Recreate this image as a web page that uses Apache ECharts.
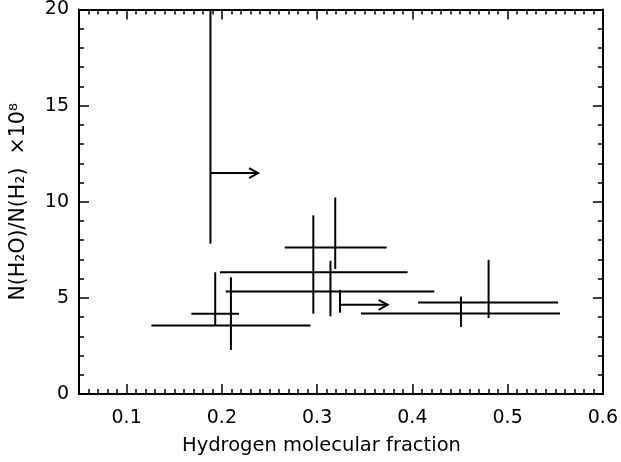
<!DOCTYPE html>
<html><head><meta charset="utf-8">
<script src="https://cdn.jsdelivr.net/npm/echarts@6/dist/echarts.min.js"></script>
<style>html,body{margin:0;padding:0;background:#fff}#c{width:621px;height:462px}</style>
</head><body><div id="c"></div>
<script>
// Measured points with two-sided error bars
const xVal  = [0.193, 0.2095, 0.296, 0.319, 0.314, 0.480, 0.451];
const xLow  = [0.168, 0.126, 0.198, 0.266, 0.204, 0.406, 0.346];
const xHigh = [0.218, 0.293, 0.395, 0.373, 0.423, 0.553, 0.555];
const yVal  = [4.18, 3.56, 6.33, 7.62, 5.33, 4.76, 4.19];
const yLow  = [3.56, 2.29, 4.18, 6.50, 4.04, 3.95, 3.49];
const yHigh = [6.33, 6.07, 9.29, 10.22, 6.93, 6.98, 5.07];
// Lower limits on the molecular fraction (arrows)
const limX      = [0.188, 0.324];
const limArrowTo = [0.238, 0.374];
const limY      = [11.49, 4.64];
const limYLow   = [7.82, 4.23];
const limYHigh  = [20, 5.42];
// Tick labels
const xTickLabels = [0.1, 0.2, 0.3, 0.4, 0.5, 0.6];
const yTickLabels = [0, 5, 10, 15, 20];

const FONT = 'DejaVu Sans';
const chart = echarts.init(document.getElementById('c'), null, {renderer: 'canvas'});
const lineStyleAx = {color: '#000', width: 2};

function errRender(params, api) {
  const x = api.value(0), y = api.value(1);
  const xl = api.coord([api.value(2), y]);
  const xh = api.coord([api.value(3), y]);
  const yl = api.coord([x, api.value(4)]);
  const yh = api.coord([x, api.value(5)]);
  const style = {stroke: '#000', lineWidth: 2};
  return {type: 'group', children: [
    {type: 'line', shape: {x1: xl[0], y1: xl[1], x2: xh[0], y2: xh[1]}, style},
    {type: 'line', shape: {x1: yl[0], y1: yl[1], x2: yh[0], y2: yh[1]}, style}
  ]};
}
function limRender(params, api) {
  const x = api.value(0), y = api.value(1);
  const p0 = api.coord([x, y]);
  const p1 = api.coord([api.value(2), y]);
  const yl = api.coord([x, api.value(3)]);
  const yh = api.coord([x, api.value(4)]);
  const style = {stroke: '#000', lineWidth: 2, fill: null};
  return {type: 'group', children: [
    {type: 'line', shape: {x1: yl[0], y1: yl[1], x2: yh[0], y2: yh[1]}, style},
    {type: 'line', shape: {x1: p0[0], y1: p0[1], x2: p1[0], y2: p1[1]}, style},
    {type: 'polyline', shape: {points: [[p1[0] - 9, p1[1] - 5], [p1[0], p1[1]], [p1[0] - 9, p1[1] + 5]]}, style}
  ]};
}

const xMin = 0.05, xMax = xTickLabels[xTickLabels.length - 1];
const yMin = yTickLabels[0], yMax = yTickLabels[yTickLabels.length - 1];

function xAx(pos, major, withLabel) {
  const a = {
    type: 'value', position: pos, min: xMin, max: xMax, gridIndex: 0,
    axisLine: {show: true, onZero: false, lineStyle: lineStyleAx},
    splitLine: {show: false},
    axisTick: {show: true, inside: true, length: major ? 10 : 5, lineStyle: {color: '#000', width: 1.5}},
    axisLabel: {show: false}
  };
  if (major) {
    a.axisTick.customValues = xTickLabels;
    a.axisLabel = {show: withLabel, customValues: xTickLabels, color: '#000', fontSize: 19,
      fontFamily: FONT, margin: 15, formatter: v => String(v)};
  } else {
    a.interval = 0.01;
  }
  return a;
}
function yAx(pos, withLabel) {
  return {
    type: 'value', position: pos, min: yMin, max: yMax, interval: 5, gridIndex: 0,
    axisLine: {show: true, onZero: false, lineStyle: lineStyleAx},
    splitLine: {show: false},
    axisTick: {show: true, inside: true, length: 10, lineStyle: {color: '#000', width: 1.5}},
    minorTick: {show: true, splitNumber: 5, length: 5, lineStyle: {color: '#000', width: 1.5}},
    axisLabel: {show: withLabel, color: '#000', fontSize: 19, fontFamily: FONT, margin: 10}
  };
}

const xAxes = [xAx('bottom', true, true), xAx('bottom', false, false), xAx('top', true, false), xAx('top', false, false)];
xAxes[0].name = 'Hydrogen molecular fraction';
xAxes[0].nameLocation = 'middle';
xAxes[0].nameGap = 42;
xAxes[0].nameTextStyle = {color: '#000', fontSize: 19.5, fontFamily: FONT, padding: [0, 39, 0, 0]};
const yAxes = [yAx('left', true), yAx('right', false)];
yAxes[0].name = 'N(H\u2082O)/N(H\u2082)  \u00d710\u2078';
yAxes[0].nameLocation = 'middle';
yAxes[0].nameGap = 50;
yAxes[0].nameTextStyle = {color: '#000', fontSize: 20.5, fontFamily: FONT};

chart.setOption({
  animation: false,
  backgroundColor: '#fff',
  grid: {left: 79, right: 16, top: 7, bottom: 68, containLabel: false},
  xAxis: xAxes,
  yAxis: yAxes,
  series: [
    {type: 'custom', xAxisIndex: 0, yAxisIndex: 0, renderItem: errRender,
     encode: {x: 0, y: 1},
     data: xVal.map((x, i) => [x, yVal[i], xLow[i], xHigh[i], yLow[i], yHigh[i]])},
    {type: 'custom', xAxisIndex: 0, yAxisIndex: 0, renderItem: limRender,
     encode: {x: 0, y: 1},
     data: limX.map((x, i) => [x, limY[i], limArrowTo[i], limYLow[i], limYHigh[i]])}
  ]
});
</script></body></html>
